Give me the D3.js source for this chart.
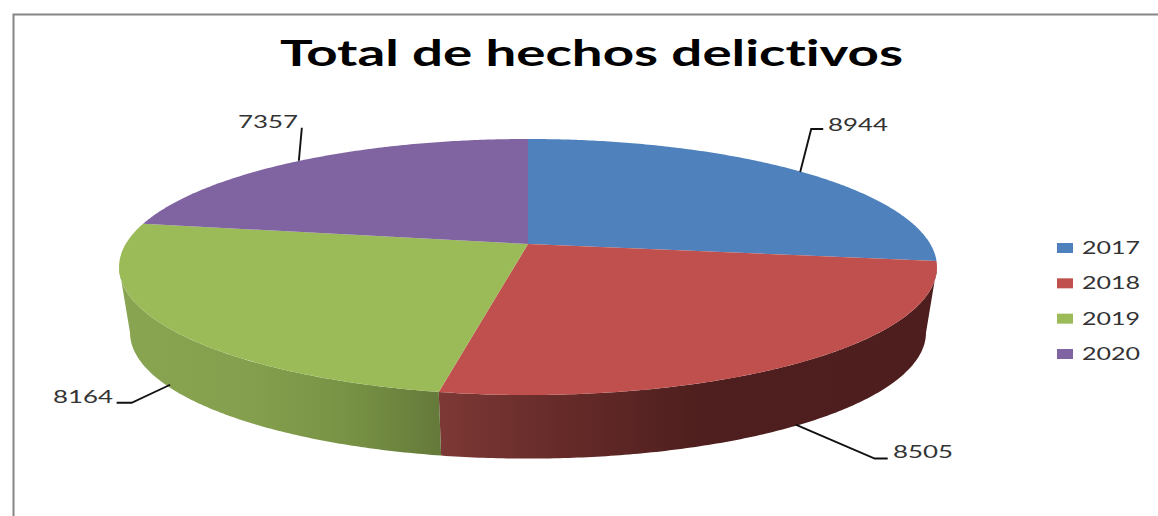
<!DOCTYPE html>
<html>
<head>
<meta charset="utf-8">
<script src="https://cdn.jsdelivr.net/npm/d3@7/dist/d3.min.js"></script>
<style>
  html, body { margin: 0; padding: 0; background: #fff; overflow: hidden; }
  text { font-family: Lato, "Open Sans", sans-serif; font-variant-ligatures: none; }
</style>
</head>
<body>
<script>
const chartTitle = "Total de hechos delictivos";
const years = ["2017", "2018", "2019", "2020"];
const totals = [8944, 8505, 8164, 7357];
const sliceColors = ["#4f81bd", "#c0504d", "#9bbb59", "#8064a2"];
// colores del borde lateral (izquierda -> derecha), cada uno con su x
const wallStops = {
  "2018": [[441, "#7c3835"], [560, "#662b29"], [700, "#4e1f1e"], [937, "#4d1e1d"]],
  "2019": [[119, "#89a551"], [250, "#84a04e"], [350, "#779244"], [441, "#65793a"]]
};
// puntos de cada linea guia, relativos al borde del pastel
const leaderElbows = [
  [[1.4, 1], [12.4, -42], [24.4, -42]],
  [[-1, -1], [78, 33], [91, 33]],
  [[0, -3], [-38.5, 15], [-53.5, 15]],
  [[-1, 0], [2, -33]]
];
const labelSpots = [[828, 131], [893, 458], [53, 403], [238, 128]];

const width = 1158, height = 516;
const svg = d3.select("body").append("svg").attr("width", width).attr("height", height);

// marco del grafico
svg.append("path")
  .attr("d", d3.line()([[13.5, height], [13.5, 14.5], [width, 14.5]]))
  .style("fill", "none").style("stroke", "#868686").style("stroke-width", 2);

svg.append("text")
  .attr("x", 280).attr("y", 66)
  .attr("textLength", 623).attr("lengthAdjust", "spacingAndGlyphs")
  .style("font-size", "37px").style("font-weight", "700").style("fill", "#000")
  .text(chartTitle);

// proyeccion en perspectiva del disco (circulo unidad -> pantalla)
const persp = 0.1797;
function project(disc, angle) {
  const u = Math.sin(angle), v = -Math.cos(angle);
  const w = 1 - persp * v;
  return [disc.cx + disc.bx * u / w, disc.cy + disc.by * v / w];
}
const topDisc = { cx: 528, cy: 244, bx: 402.3, by: 123.9 };
const lowDisc = { cx: 528, cy: 310, bx: 391.5, by: 121.9 };
// angulos donde el disco toca su silueta a derecha e izquierda
const rimRight = Math.acos(-persp), rimLeft = 2 * Math.PI - rimRight;

const pie = d3.pie().sort(null);
const slices = pie(totals);
const color = d3.scaleOrdinal().domain(years).range(sliceColors);
const line = d3.line();

function arcPoints(disc, a0, a1) {
  const n = Math.ceil((a1 - a0) / 0.01);
  return d3.range(n + 1).map(i => project(disc, a0 + (a1 - a0) * i / n));
}

const defs = svg.append("defs");
Object.keys(wallStops).forEach(year => {
  const stops = wallStops[year];
  const grad = defs.append("linearGradient")
    .attr("id", "wall-" + year)
    .attr("gradientUnits", "userSpaceOnUse")
    .attr("x1", stops[0][0]).attr("x2", stops[stops.length - 1][0])
    .attr("y1", 0).attr("y2", 0);
  const off = d3.scaleLinear().domain([stops[0][0], stops[stops.length - 1][0]]).range([0, 1]);
  stops.forEach(s => grad.append("stop").attr("offset", off(s[0])).attr("stop-color", s[1]));
});

// paredes visibles (2018 y 2019), debajo de la tapa
slices.forEach((s, i) => {
  if (!wallStops[years[i]]) return;
  const start = Math.max(s.startAngle, rimRight);
  const end = Math.min(s.endAngle, rimLeft);
  const pts = arcPoints(topDisc, start, end)
    .concat(arcPoints(lowDisc, start, end).reverse());
  svg.append("path")
    .attr("d", line(pts) + "Z")
    .style("fill", "url(#wall-" + years[i] + ")");
});

// tapa del pastel
svg.selectAll(".slice-top")
  .data(slices)
  .enter()
  .append("path")
  .attr("class", "slice-top")
  .attr("d", d => {
    const pts = [[topDisc.cx, topDisc.cy]].concat(arcPoints(topDisc, d.startAngle, d.endAngle));
    return line(pts) + "Z";
  })
  .style("fill", (d, i) => color(years[i]));

// lineas guia y etiquetas
slices.forEach((s, i) => {
  const mid = (s.startAngle + s.endAngle) / 2;
  const front = Math.cos(mid) < 0;   // las de abajo salen del disco inferior
  const from = project(front ? lowDisc : topDisc, mid);
  const pts = leaderElbows[i].map(e => [from[0] + e[0], from[1] + e[1]]);
  svg.append("path")
    .attr("d", line(pts))
    .style("fill", "none").style("stroke", "#111").style("stroke-width", 1.9);
  svg.append("text")
    .attr("x", labelSpots[i][0]).attr("y", labelSpots[i][1])
    .attr("textLength", 60).attr("lengthAdjust", "spacingAndGlyphs")
    .style("font-size", "18px").style("fill", "#333")
    .text(totals[i]);
});

// leyenda
const legendY = d3.scalePoint().domain(years).range([248, 354]);
const legend = svg.selectAll(".legend")
  .data(years)
  .enter()
  .append("g")
  .attr("class", "legend")
  .attr("transform", d => "translate(1057," + legendY(d) + ")");
legend.append("rect")
  .attr("x", 0).attr("y", -5).attr("width", 16).attr("height", 10)
  .style("fill", d => color(d));
legend.append("text")
  .attr("x", 25).attr("y", 6)
  .attr("textLength", 58).attr("lengthAdjust", "spacingAndGlyphs")
  .style("font-size", "18px").style("fill", "#333")
  .text(d => d);
</script>
</body>
</html>
